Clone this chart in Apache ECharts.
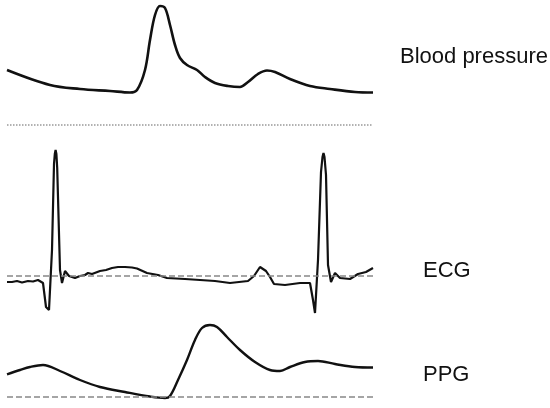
<!DOCTYPE html>
<html>
<head>
<meta charset="utf-8">
<script src="https://cdn.jsdelivr.net/npm/echarts@6/dist/echarts.min.js"></script>
<style>
  html, body { margin: 0; padding: 0; background: #fff; }
  #main { width: 550px; height: 408px; }
</style>
</head>
<body>
<div id="main"></div>
<script>
// samples: [time index, amplitude above baseline]
var bpData = [
    [0, 55], [43, 40], [73, 36], [103, 34], [123, 32.5], [130, 35], [138, 55],
    [143, 85], [148, 110], [153, 119], [158, 117], [163, 100], [168, 80],
    [173, 67], [180, 60], [190, 55], [198, 48], [208, 42], [221, 39], [233, 38],
    [241, 43], [251, 51], [260, 54.5], [268, 53], [283, 46], [303, 39],
    [323, 36], [348, 33], [366, 32.5]
];
var ecgData = [
    [0, -6], [5, -6], [10, -5], [15, -6.5], [21, -5], [26, -5.5], [31, -4],
    [33, -2], [36, -7], [39, -31], [42, -34], [45, 26], [47, 112], [47.8, 122],
    [48.6, 126], [49.4, 122], [50.2, 108], [53, 6], [55, -7], [58, 5], [62, 0],
    [68, -2], [73, 0], [78, 1], [81, 3], [85, 2], [93, 5], [99, 6], [105, 8],
    [111, 9], [118, 9], [125, 8.5], [130, 7.5], [140, 3], [151, 1], [160, -2],
    [178, -3], [193, -4], [208, -5], [223, -7], [241, -5], [247, 0], [253, 9],
    [259, 5], [263, -1], [267, -8], [278, -9], [293, -7], [303, -7], [306, -24],
    [308, -37], [311, 16], [314, 104], [315.5, 119], [316.5, 123], [317.5, 119],
    [319, 101], [321, 11], [324, -6], [328, 3], [333, -2], [343, -3], [351, 2],
    [359, 4], [366, 8]
];
var ppgData = [
    [0, 22.7], [13, 27], [23, 30], [36, 32], [53, 26], [73, 17], [93, 10],
    [118, 5], [143, 0.5], [158, -1], [163, 1], [171, 17], [180, 37], [188, 57],
    [195, 69], [203, 72], [210, 70], [220, 60], [233, 47], [248, 35], [263, 27],
    [273, 26], [283, 30], [298, 35], [311, 36], [328, 33], [348, 30], [366, 29.5]
];
var labels = ['Blood pressure', 'ECG', 'PPG'];

var chart = echarts.init(document.getElementById('main'));

function xAx(i) {
    return { type: 'value', gridIndex: i, min: 0, max: 366, show: false };
}
function yAx(i, min, max) {
    return { type: 'value', gridIndex: i, min: min, max: max, show: false };
}
function baseLine(type, color) {
    return {
        silent: true,
        symbol: 'none',
        label: { show: false },
        lineStyle: { type: type, color: color, width: 1.5 },
        data: [{ yAxis: 0 }]
    };
}
var txt = { fontSize: 22, fontWeight: 'normal', color: '#111', fontFamily: 'Liberation Sans' };

var option = {
    animation: false,
    backgroundColor: '#fff',
    title: [
        { text: labels[0], left: 395, top: 41, textStyle: txt },
        { text: labels[1], left: 418, top: 255, textStyle: txt },
        { text: labels[2], left: 418, top: 359, textStyle: txt }
    ],
    grid: [
        { left: 7, width: 366, top: 0, height: 135 },
        { left: 7, width: 366, top: 136, height: 184 },
        { left: 7, width: 366, top: 317, height: 88 }
    ],
    xAxis: [xAx(0), xAx(1), xAx(2)],
    yAxis: [yAx(0, -10, 125), yAx(1, -44, 140), yAx(2, -8, 80)],
    series: [
        {
            type: 'line', xAxisIndex: 0, yAxisIndex: 0, data: bpData,
            smooth: 0.35, showSymbol: false,
            lineStyle: { color: '#111', width: 2.6 },
            markLine: baseLine('dotted', '#999')
        },
        {
            type: 'line', xAxisIndex: 1, yAxisIndex: 1, data: ecgData,
            showSymbol: false,
            lineStyle: { color: '#111', width: 2.2 },
            markLine: baseLine('dashed', '#888')
        },
        {
            type: 'line', xAxisIndex: 2, yAxisIndex: 2, data: ppgData,
            smooth: 0.35, showSymbol: false,
            lineStyle: { color: '#111', width: 2.4 },
            markLine: baseLine('dashed', '#888')
        }
    ]
};

chart.setOption(option);
</script>
</body>
</html>
